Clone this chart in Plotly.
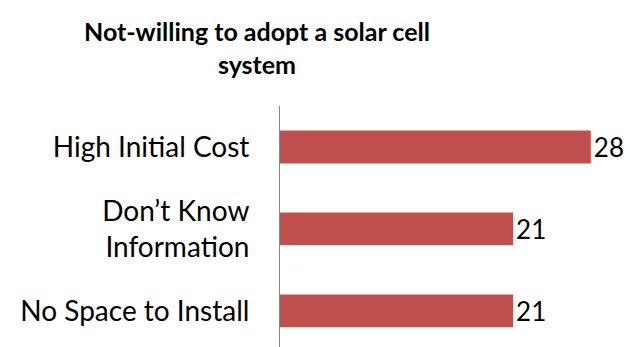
import plotly.graph_objects as go

categories = ["High Initial Cost", "Don\u2019t Know<br>Information", "No Space to Install"]
values = [28, 21, 21]
value_labels = ["28", "21", "21"]
title_text = "Not-willing to adopt a solar cell<br>system"

fig = go.Figure()
fig.add_trace(go.Bar(
    y=categories, x=values, orientation="h",
    marker=dict(color="#C0504D", line=dict(width=0)),
    width=0.4,
    text=value_labels, textposition="outside",
    textfont=dict(family="Lato", size=26, color="#000000"),
    cliponaxis=False,
))

fig.add_annotation(
    text="<b>" + title_text + "</b>", xref="paper", yref="paper",
    x=(257 - 280) / 350, xanchor="center", y=1 + (106 - 14) / 241, yanchor="top",
    showarrow=False, align="center",
    font=dict(family="Lato", size=25, color="#000000"),
)

fig.update_layout(
    width=630, height=347,
    margin=dict(l=280, r=0, t=106, b=0),
    paper_bgcolor="white", plot_bgcolor="white",
    showlegend=False,
    font=dict(family="Lato"),
)
fig.update_xaxes(range=[0, 350/11.1], showticklabels=False, showgrid=False,
                 zeroline=False, showline=False, fixedrange=True)
fig.update_yaxes(type="category", range=[2.44, -0.5], showline=True, linecolor="#868686",
                 linewidth=1, ticks="", showgrid=False, zeroline=False,
                 ticklabelstandoff=24,
                 tickfont=dict(family="Lato", size=28, color="#000000"))

fig.write_html("out.html")
